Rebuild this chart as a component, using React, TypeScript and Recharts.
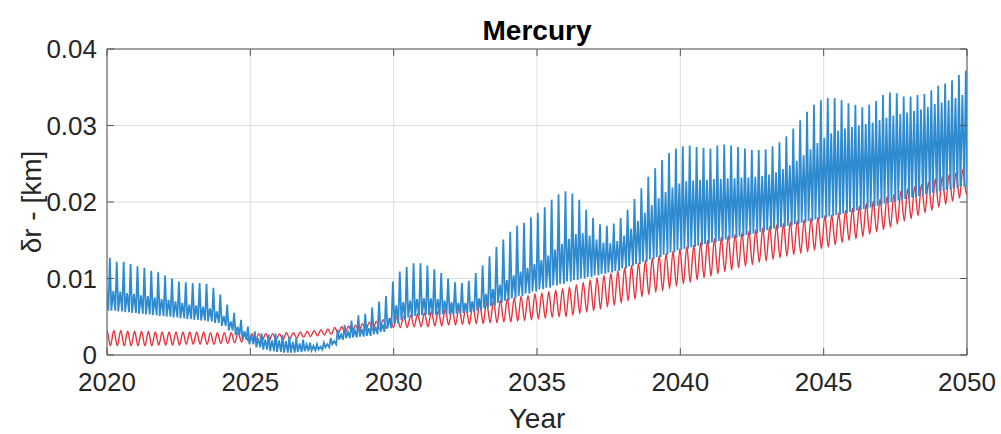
import React from 'react';
import { LineChart, Line, XAxis, YAxis, CartesianGrid, ReferenceLine, ReferenceArea } from 'recharts';

// one entry per orbital cycle of Mercury, k = -1 .. 124 (values in metres, i.e. km * 1000)
const FIRST_CYCLE = 2019.859;
const PERIOD = 0.2408; // years

const blueSpike = [
  12.8,
  12.7, 12.2, 12.2, 11.9, 11.6, 11.4, 11.0, 10.8, 10.4, 10.0,
  9.6, 9.5, 9.4, 9.4, 9.3, 8.8, 7.9, 6.6, 5.5, 4.6,
  3.7, 3.1, 2.8, 2.7, 2.8, 2.6, 2.4, 2.2, 2.0, 1.6,
  1.4, 1.6, 2.2, 3.3, 3.9, 4.5, 5.2, 5.4, 6.2, 7.0,
  7.7, 9.6, 10.9, 11.5, 12.0, 12.0, 11.7, 11.2, 10.7, 10.0,
  9.5, 9.4, 9.7, 10.7, 11.7, 12.9, 14.1, 15.1, 16.1, 16.9,
  17.3, 18.0, 18.6, 19.3, 20.3, 21.0, 21.4, 21.1, 20.3, 19.0,
  17.9, 17.1, 16.9, 17.2, 17.9, 19.0, 20.4, 21.8, 23.3, 24.4,
  25.5, 26.4, 27.0, 27.3, 27.4, 27.2, 27.1, 27.0, 27.4, 27.5,
  27.4, 27.2, 27.0, 26.8, 26.8, 26.9, 27.3, 27.8, 28.6, 29.6,
  30.7, 31.8, 32.7, 33.3, 33.6, 33.6, 33.3, 32.9, 32.7, 32.4,
  32.7, 33.2, 34.0, 34.3, 34.2, 33.8, 33.8, 34.0, 34.1, 34.6,
  35.2, 35.5, 35.9, 36.6, 37.2,
];

const blueMid = [
  8.5,
  8.4, 8.3, 8.1, 8.0, 7.8, 7.7, 7.5, 7.3, 7.2, 7.0,
  6.8, 6.6, 6.5, 6.3, 6.1, 5.7, 5.1, 4.4, 3.7, 3.1,
  2.6, 2.2, 2.0, 1.9, 1.9, 1.8, 1.7, 1.5, 1.4, 1.2,
  1.1, 1.4, 1.8, 2.7, 3.0, 3.2, 3.4, 3.5, 3.7, 4.0,
  4.8, 6.5, 6.9, 7.1, 7.3, 7.4, 7.4, 7.3, 7.1, 6.9,
  6.8, 6.8, 7.0, 7.4, 8.0, 8.6, 9.2, 9.8, 10.4, 10.9,
  11.4, 11.9, 12.4, 13.0, 13.8, 14.5, 15.2, 15.8, 15.9, 15.6,
  15.1, 14.7, 14.6, 14.9, 15.6, 16.5, 17.5, 18.6, 19.6, 20.5,
  21.3, 21.9, 22.4, 22.7, 22.8, 22.9, 22.9, 23.0, 23.0, 23.1,
  23.1, 23.2, 23.2, 23.3, 23.4, 23.6, 23.9, 24.3, 24.8, 25.4,
  26.1, 26.9, 27.7, 28.4, 29.0, 29.3, 29.6, 29.8, 30.0, 30.2,
  30.4, 30.7, 31.0, 31.3, 31.5, 31.7, 31.9, 32.1, 32.4, 32.8,
  33.0, 33.3, 33.6, 34.0, 34.4,
];

const blueLow = [
  5.8,
  5.8, 5.7, 5.6, 5.5, 5.4, 5.3, 5.2, 5.1, 5.0, 4.9,
  4.8, 4.7, 4.6, 4.5, 4.4, 4.2, 3.8, 3.2, 2.6, 2.0,
  1.4, 1.0, 0.7, 0.5, 0.4, 0.3, 0.3, 0.4, 0.5, 0.6,
  0.7, 1.0, 1.4, 2.0, 2.2, 2.3, 2.4, 2.5, 2.7, 3.0,
  3.5, 4.1, 4.6, 4.9, 5.1, 5.2, 5.2, 5.2, 5.3, 5.3,
  5.4, 5.5, 5.6, 5.8, 6.1, 6.4, 6.8, 7.1, 7.4, 7.7,
  8.0, 8.3, 8.6, 8.8, 9.1, 9.3, 9.6, 9.8, 10.0, 10.2,
  10.4, 10.6, 10.8, 11.0, 11.3, 11.6, 11.9, 12.2, 12.5, 12.8,
  13.1, 13.4, 13.7, 13.9, 14.1, 14.3, 14.5, 14.7, 14.9, 15.1,
  15.3, 15.5, 15.7, 15.9, 16.1, 16.3, 16.5, 16.7, 16.9, 17.1,
  17.3, 17.5, 17.7, 17.9, 18.1, 18.3, 18.5, 18.7, 18.9, 19.1,
  19.3, 19.5, 19.8, 20.0, 20.2, 20.4, 20.6, 20.8, 21.0, 21.2,
  21.4, 21.6, 21.8, 22.0, 22.2,
];

const redHigh = [
  3.2,
  3.2, 3.2, 3.1, 3.1, 3.1, 3.1, 3.0, 3.0, 3.0, 3.0,
  3.0, 3.0, 3.0, 3.0, 2.9, 2.9, 2.9, 2.9, 2.9, 2.8,
  2.8, 2.8, 2.8, 2.8, 2.8, 2.9, 2.9, 3.0, 3.1, 3.2,
  3.3, 3.4, 3.6, 3.7, 3.8, 3.9, 4.1, 4.3, 4.4, 4.6,
  4.8, 5.0, 5.1, 5.2, 5.4, 5.5, 5.7, 5.8, 6.0, 6.1,
  6.3, 6.4, 6.6, 6.8, 6.9, 7.1, 7.2, 7.4, 7.5, 7.7,
  7.8, 8.0, 8.1, 8.3, 8.5, 8.7, 8.9, 9.2, 9.5, 9.8,
  10.1, 10.4, 10.7, 11.0, 11.4, 11.7, 12.0, 12.4, 12.7, 13.0,
  13.3, 13.6, 13.9, 14.2, 14.4, 14.7, 15.0, 15.2, 15.4, 15.6,
  15.8, 16.0, 16.2, 16.4, 16.6, 16.8, 17.0, 17.2, 17.4, 17.6,
  17.7, 17.9, 18.0, 18.2, 18.3, 18.6, 18.9, 19.2, 19.5, 19.8,
  20.1, 20.4, 20.7, 21.0, 21.4, 21.7, 22.0, 22.3, 22.6, 23.0,
  23.3, 23.6, 23.9, 24.3, 24.6,
];

const redLow = [
  1.2,
  1.2, 1.2, 1.2, 1.2, 1.2, 1.2, 1.2, 1.3, 1.3, 1.3,
  1.3, 1.4, 1.4, 1.4, 1.4, 1.4, 1.5, 1.5, 1.6, 1.7,
  1.8, 1.8, 1.9, 1.9, 2.0, 2.0, 2.1, 2.2, 2.3, 2.4,
  2.5, 2.6, 2.7, 2.8, 2.9, 3.0, 3.1, 3.2, 3.3, 3.4,
  3.5, 3.6, 3.6, 3.6, 3.7, 3.7, 3.7, 3.8, 3.8, 3.9,
  3.9, 4.0, 4.0, 4.1, 4.1, 4.2, 4.2, 4.3, 4.3, 4.4,
  4.5, 4.6, 4.7, 4.8, 4.9, 5.0, 5.0, 5.2, 5.4, 5.6,
  5.8, 6.0, 6.3, 6.5, 6.8, 7.1, 7.3, 7.6, 7.9, 8.2,
  8.4, 8.7, 9.0, 9.3, 9.5, 9.8, 10.1, 10.3, 10.6, 10.9,
  11.1, 11.4, 11.6, 11.8, 12.1, 12.3, 12.5, 12.7, 12.9, 13.1,
  13.3, 13.5, 13.7, 13.9, 14.1, 14.4, 14.7, 15.0, 15.2, 15.5,
  15.8, 16.1, 16.4, 16.7, 17.1, 17.5, 17.8, 18.2, 18.6, 18.9,
  19.3, 19.7, 20.1, 20.5, 21.0,
];

const xTicks = [2020, 2025, 2030, 2035, 2040, 2045, 2050];
const yTicks = [0, 0.01, 0.02, 0.03, 0.04];

const FONT = '"Liberation Sans", Arial, Helvetica, sans-serif';
const TEXT = '#262626';
const FRAME = '#555555';

// spike, trough, secondary bump, trough in each cycle
const blueData = blueSpike.flatMap((s, i) => {
  const t = FIRST_CYCLE + i * PERIOD;
  return [
    { t, v: s / 1000 },
    { t: t + 0.22 * PERIOD, v: blueLow[i] / 1000 },
    { t: t + 0.5 * PERIOD, v: blueMid[i] / 1000 },
    { t: t + 0.78 * PERIOD, v: blueLow[i] / 1000 },
  ];
});

const redData = redHigh.flatMap((h, i) => {
  const t = FIRST_CYCLE + i * PERIOD;
  return [
    { t: t + 0.08 * PERIOD, v: redLow[i] / 1000 },
    { t: t + 0.58 * PERIOD, v: h / 1000 },
  ];
});

const TICK_X = 0.24; // inward tick length, years
const TICK_Y = 0.0009; // inward tick length, km

export default function App() {
  return (
    <div style={{ position: 'fixed', left: 0, top: 0, width: 1001, height: 434, background: '#fff', fontFamily: FONT }}>
      <div
        style={{
          position: 'absolute', left: 107, top: 15, width: 860, textAlign: 'center',
          fontSize: 28, lineHeight: '32px', fontWeight: 'bold', color: '#000',
        }}
      >
        Mercury
      </div>
      <LineChart width={1001} height={434} margin={{ top: 49, right: 34, bottom: 0, left: 0 }}>
        <CartesianGrid stroke="#dedede" strokeWidth={1} />
        <XAxis
          dataKey="t"
          type="number"
          domain={[2020, 2050]}
          ticks={xTicks}
          allowDataOverflow
          height={79}
          tickLine={false}
          axisLine={false}
          tickSize={8}
          tickMargin={10}
          tick={{ fill: TEXT, fontSize: 26, fontFamily: FONT }}
          label={{ value: 'Year', position: 'insideBottom', offset: 6, fill: TEXT, fontSize: 28, fontFamily: FONT }}
        />
        <YAxis
          type="number"
          domain={[0, 0.04]}
          ticks={yTicks}
          allowDataOverflow
          width={107}
          tickLine={false}
          axisLine={false}
          tickSize={4}
          tickMargin={6}
          tickFormatter={(v: number) => (v === 0 ? '0' : v.toFixed(2))}
          tick={{ fill: TEXT, fontSize: 26, fontFamily: FONT }}
          label={{
            value: 'δr - [km]', angle: -90, position: 'insideLeft', offset: 31,
            fill: TEXT, fontSize: 28, fontFamily: FONT, style: { textAnchor: 'middle' },
          }}
        />
        <Line data={redData} dataKey="v" type="monotone" stroke="#e8323c" strokeWidth={1.4} dot={false} isAnimationActive={false} />
        <Line data={blueData} dataKey="v" type="linear" stroke="#2f8bd0" strokeWidth={1.8} dot={false} isAnimationActive={false} />
        <ReferenceArea x1={2020} x2={2050} y1={0} y2={0.04} fill="none" stroke={FRAME} strokeWidth={1} />
        {xTicks.map((x) => (
          <ReferenceLine key={'xb' + x} segment={[{ x, y: 0 }, { x, y: TICK_Y }]} stroke={FRAME} />
        ))}
        {xTicks.map((x) => (
          <ReferenceLine key={'xt' + x} segment={[{ x, y: 0.04 }, { x, y: 0.04 - TICK_Y }]} stroke={FRAME} />
        ))}
        {yTicks.map((y) => (
          <ReferenceLine key={'yl' + y} segment={[{ x: 2020, y }, { x: 2020 + TICK_X, y }]} stroke={FRAME} />
        ))}
        {yTicks.map((y) => (
          <ReferenceLine key={'yr' + y} segment={[{ x: 2050, y }, { x: 2050 - TICK_X, y }]} stroke={FRAME} />
        ))}
      </LineChart>
    </div>
  );
}
